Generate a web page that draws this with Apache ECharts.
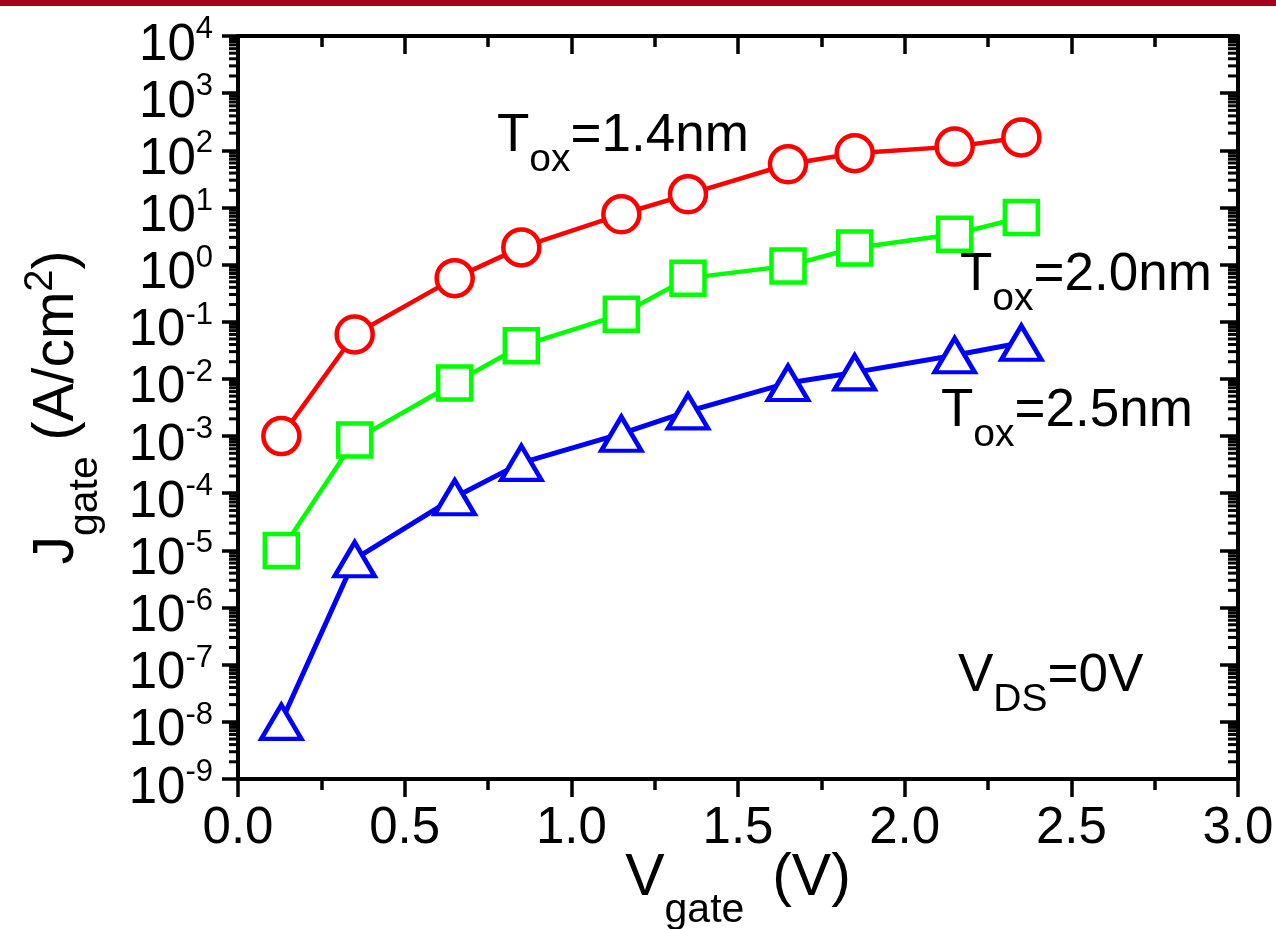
<!DOCTYPE html>
<html><head><meta charset="utf-8">
<script src="https://cdn.jsdelivr.net/npm/echarts@6/dist/echarts.min.js"></script>
<style>html,body{margin:0;padding:0;background:#fff}#c{width:1276px;height:929px}</style>
</head><body><div id="c"></div>
<script>
// ---- data ----
const vGate = [0.13, 0.35, 0.65, 0.85, 1.15, 1.35, 1.65, 1.85, 2.15, 2.35];
const jTox14 = [1.0e-3, 0.06, 0.58, 2.0, 7.6, 17, 57, 89, 116, 168];
const jTox20 = [1.0e-5, 8.5e-4, 8.5e-3, 0.038, 0.135, 0.58, 0.95, 1.95, 3.4, 6.7];
const jTox25 = [1.0e-8, 7.0e-6, 8.5e-5, 3.4e-4, 1.1e-3, 2.7e-3, 8.5e-3, 0.013, 0.026, 0.043];
const xTicks = [0.0, 0.5, 1.0, 1.5, 2.0, 2.5, 3.0];
const yDecades = [-9, -8, -7, -6, -5, -4, -3, -2, -1, 0, 1, 2, 3, 4];

const FONT = "'Liberation Sans', Arial, Helvetica, sans-serif";
const yMinExp = yDecades[0], yMaxExp = yDecades[yDecades.length - 1];
const minorVals = [];
for (let k = yMinExp; k < yMaxExp; k++) {
  for (let m = 2; m <= 9; m++) minorVals.push([0, m * Math.pow(10, k)]);
}
const pairs = arr => vGate.map((x, i) => [x, arr[i]]);

const chart = echarts.init(document.getElementById('c'), null, {renderer: 'canvas'});
const axisLine = {show: true, onZero: false, lineStyle: {color: '#000', width: 4}};
const tickStyle = {color: '#000', width: 3.5};
const tok = (size, lh, padTop) => ({fontSize: size, lineHeight: lh, fontFamily: FONT, color: '#000', verticalAlign: 'top', padding: [padTop, 0, 0, 0]});

const option = {
  backgroundColor: '#fff',
  animation: false,
  grid: {left: 238, right: 38, top: 36, bottom: 150, containLabel: false, outerBoundsMode: 'none'},
  xAxis: [{
    type: 'value', min: xTicks[0], max: xTicks[xTicks.length - 1], interval: 0.5,
    position: 'bottom',
    axisLine: axisLine,
    axisTick: {show: true, inside: false, length: 18, lineStyle: tickStyle},
    minorTick: {show: true, splitNumber: 2, length: 11, lineStyle: tickStyle},
    splitLine: {show: false},
    axisLabel: {show: true, margin: 24, fontSize: 51, lineHeight: 51, fontFamily: FONT, color: '#000',
      showMinLabel: true, showMaxLabel: true, hideOverlap: false,
      formatter: v => v.toFixed(1)},
    name: '{m|V}{s|gate }{m| (V)}',
    nameLocation: 'middle', nameGap: 70, nameMoveOverlap: false,
    nameTextStyle: {rich: {m: tok(59, 59, 0), s: tok(41, 41, 41)}}
  }, {
    type: 'value', min: xTicks[0], max: xTicks[xTicks.length - 1], interval: 0.5,
    position: 'top',
    axisLine: axisLine,
    axisTick: {show: true, inside: true, length: 18, lineStyle: tickStyle},
    minorTick: {show: true, splitNumber: 2, length: 11, lineStyle: tickStyle},
    splitLine: {show: false},
    axisLabel: {show: false}
  }],
  yAxis: [{
    // data axis (log scale)
    type: 'log', logBase: 10, min: Math.pow(10, yMinExp), max: Math.pow(10, yMaxExp),
    position: 'left',
    axisLine: axisLine,
    axisTick: {show: false}, axisLabel: {show: false}, splitLine: {show: false}
  }, {
    type: 'log', logBase: 10, min: Math.pow(10, yMinExp), max: Math.pow(10, yMaxExp),
    position: 'right',
    axisLine: axisLine,
    axisTick: {show: false}, axisLabel: {show: false}, splitLine: {show: false}
  }, {
    // decade ticks & labels (exponent space, same pixel span)
    type: 'value', min: yMinExp, max: yMaxExp, interval: 1,
    position: 'left',
    axisLine: {show: false, onZero: false},
    axisTick: {show: true, inside: false, length: 16, lineStyle: tickStyle},
    splitLine: {show: false},
    axisLabel: {show: true, margin: 25, fontFamily: FONT, color: '#000',
      showMinLabel: true, showMaxLabel: true, hideOverlap: false,
      formatter: v => '{m|10}{p|' + Math.round(v) + '}',
      rich: {m: tok(51, 44, 6), p: tok(31, 22, 0)}},
    name: '{m|J}{s|gate}{m| (A/cm}{p|2}{m|)}',
    nameLocation: 'middle', nameGap: 160, nameRotate: 90,
    nameTextStyle: {rich: {m: tok(57, 57, 8), s: tok(41, 41, 44), p: tok(40, 40, 0)}}
  }, {
    type: 'value', min: yMinExp, max: yMaxExp, interval: 1,
    position: 'right',
    axisLine: {show: false, onZero: false},
    axisTick: {show: true, inside: true, length: 18, lineStyle: tickStyle},
    splitLine: {show: false},
    axisLabel: {show: false}
  }],
  series: [{
    type: 'custom', coordinateSystem: 'cartesian2d', xAxisIndex: 0, yAxisIndex: 0,
    silent: true, clip: false, z: 5,
    encode: {x: 0, y: 1},
    data: minorVals,
    renderItem: (params, api) => {
      const v = api.value(1);
      const pl = api.coord([xTicks[0], v]);
      const pr = api.coord([xTicks[xTicks.length - 1], v]);
      return {type: 'group', children: [
        {type: 'line', shape: {x1: pl[0] - 9, y1: pl[1], x2: pl[0], y2: pl[1]}, style: {stroke: '#000', lineWidth: 3}},
        {type: 'line', shape: {x1: pr[0], y1: pr[1], x2: pr[0] - 10, y2: pr[1]}, style: {stroke: '#000', lineWidth: 3}}
      ]};
    }
  }, {
    name: 'Tox=1.4nm', type: 'line', data: pairs(jTox14), yAxisIndex: 0,
    symbol: 'circle', symbolSize: 36,
    lineStyle: {color: '#FF0000', width: 4.5},
    itemStyle: {color: '#FFFFFF', borderColor: '#FF0000', borderWidth: 4.5}, z: 3
  }, {
    name: 'Tox=2.0nm', type: 'line', data: pairs(jTox20), yAxisIndex: 0,
    symbol: 'rect', symbolSize: 33,
    lineStyle: {color: '#00FF00', width: 4.5},
    itemStyle: {color: '#FFFFFF', borderColor: '#00FF00', borderWidth: 4.5}, z: 3
  }, {
    name: 'Tox=2.5nm', type: 'line', data: pairs(jTox25), yAxisIndex: 0,
    symbol: 'triangle', symbolSize: [40, 34],
    lineStyle: {color: '#0000FF', width: 5},
    itemStyle: {color: '#FFFFFF', borderColor: '#0000FF', borderWidth: 4.5}, z: 3
  }],
  graphic: [
    {type: 'rect', left: 0, top: 0, shape: {width: 1276, height: 6}, style: {fill: '#A5001E'}},
    {type: 'text', x: 497, y: 110, style: {text: '{m|T}{s|ox}{m|=1.4nm}', align: 'left', verticalAlign: 'top',
      rich: {m: tok(53, 53, 0), s: tok(39, 39, 31)}}},
    {type: 'text', x: 960, y: 249, style: {text: '{m|T}{s|ox}{m|=2.0nm}', align: 'left', verticalAlign: 'top',
      rich: {m: tok(53, 53, 0), s: tok(39, 39, 31)}}},
    {type: 'text', x: 941, y: 385, style: {text: '{m|T}{s|ox}{m|=2.5nm}', align: 'left', verticalAlign: 'top',
      rich: {m: tok(53, 53, 0), s: tok(39, 39, 31)}}},
    {type: 'text', x: 958, y: 650, style: {text: '{m|V}{s|DS}{m|=0V}', align: 'left', verticalAlign: 'top',
      rich: {m: tok(53, 53, 0), s: tok(39, 39, 31)}}}
  ]
};
chart.setOption(option);
</script></body></html>
